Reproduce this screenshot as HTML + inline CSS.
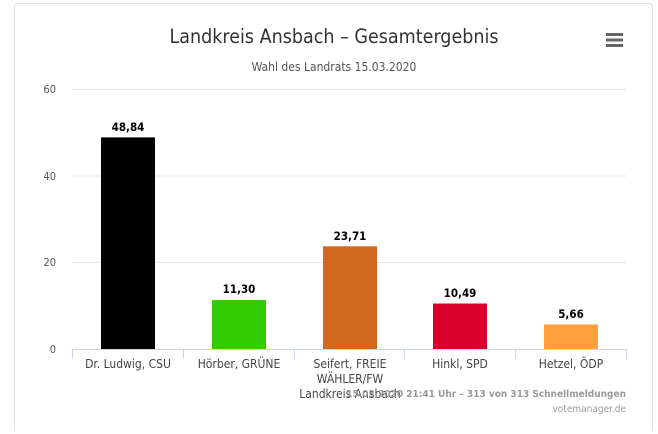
<!DOCTYPE html><html><head><style>body{margin:0;background:#fff;font-family:"DejaVu Sans","Liberation Sans",sans-serif}</style></head><body>
<svg width="658" height="430" xmlns="http://www.w3.org/2000/svg" font-family="DejaVu Sans Condensed, DejaVu Sans, Liberation Sans, sans-serif">
<rect x="14.5" y="3.5" width="638" height="440" fill="#fff" stroke="#ddd" rx="3"/>
<text x="334" y="43" text-anchor="middle" font-size="19.5" fill="#333">Landkreis Ansbach – Gesamtergebnis</text>
<text x="334" y="71" text-anchor="middle" font-size="12" fill="#555">Wahl des Landrats 15.03.2020</text>
<g fill="#666"><rect x="606" y="33" width="17" height="3"/><rect x="606" y="38.5" width="17" height="3"/><rect x="606" y="44" width="17" height="3"/></g>
<g stroke="#e6e6e6"><line x1="72" x2="626" y1="89.5" y2="89.5"/><line x1="72" x2="626" y1="176" y2="176"/><line x1="72" x2="626" y1="262.5" y2="262.5"/></g>
<g font-size="11" fill="#555" text-anchor="end"><text x="56" y="93">60</text><text x="56" y="180">40</text><text x="56" y="266">20</text><text x="56" y="353">0</text></g>
<rect x="101" y="137.4" width="54" height="211.6" fill="#000"/>
<rect x="212" y="300" width="54" height="49" fill="#33cc00"/>
<rect x="323" y="246.3" width="54" height="102.7" fill="#d2691e"/>
<rect x="433" y="303.5" width="54" height="45.5" fill="#d9002b"/>
<rect x="544" y="324.5" width="54" height="24.5" fill="#ffa03c"/>
<g font-size="11.5" font-weight="bold" fill="#000" text-anchor="middle"><text x="128" y="131">48,84</text><text x="239" y="293">11,30</text><text x="350" y="240">23,71</text><text x="460" y="297">10,49</text><text x="571" y="318">5,66</text></g>
<g stroke="#ccd6eb"><line x1="72" x2="627" y1="349.5" y2="349.5"/><line x1="72.5" x2="72.5" y1="349" y2="359"/><line x1="183.5" x2="183.5" y1="349" y2="359"/><line x1="294.5" x2="294.5" y1="349" y2="359"/><line x1="404.5" x2="404.5" y1="349" y2="359"/><line x1="515.5" x2="515.5" y1="349" y2="359"/><line x1="626.5" x2="626.5" y1="349" y2="359"/></g>
<g font-size="12" fill="#444" text-anchor="middle"><text x="128" y="368">Dr. Ludwig, CSU</text><text x="239" y="368">Hörber, GRÜNE</text><text x="350" y="368">Seifert, FREIE</text><text x="350" y="383">WÄHLER/FW</text><text x="350" y="398">Landkreis Ansbach</text><text x="460" y="368">Hinkl, SPD</text><text x="571" y="368">Hetzel, ÖDP</text></g>
<text x="626" y="397" text-anchor="end" font-size="10" font-weight="bold" fill="#999">15.03.2020 21:41 Uhr – 313 von 313 Schnellmeldungen</text>
<text x="626" y="412" text-anchor="end" font-size="10" fill="#999">votemanager.de</text>
</svg></body></html>
